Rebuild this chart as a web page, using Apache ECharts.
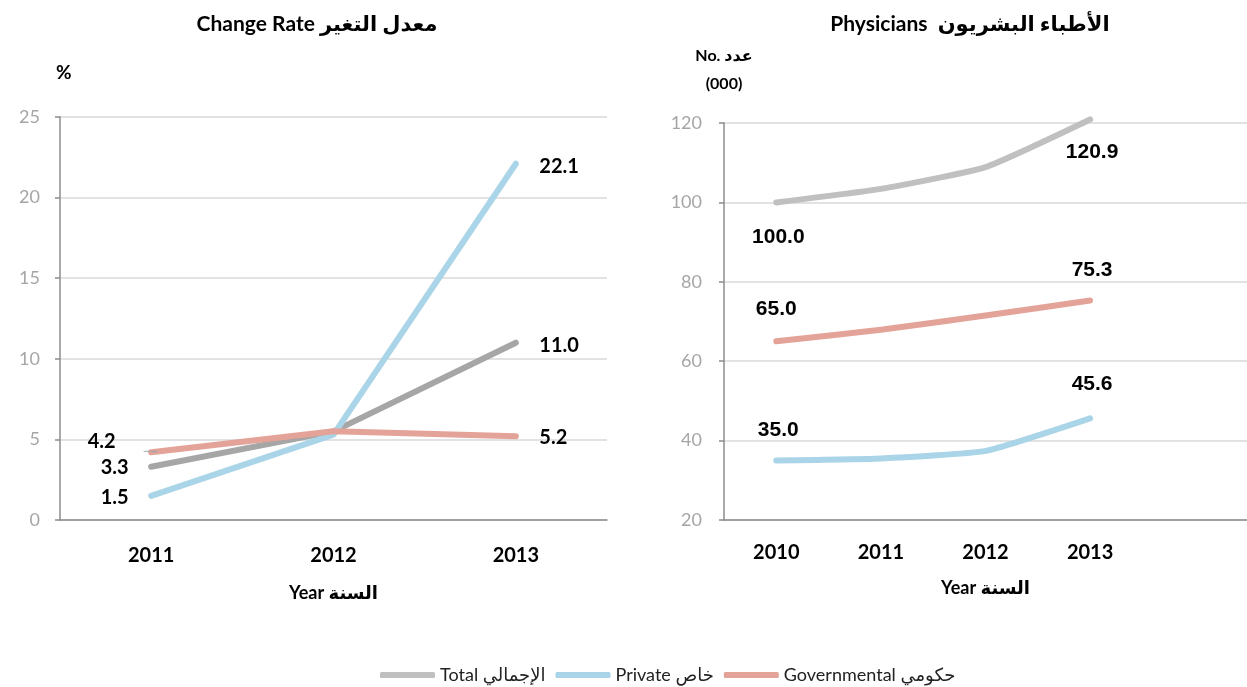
<!DOCTYPE html>
<html>
<head>
<meta charset="utf-8">
<script src="https://cdn.jsdelivr.net/npm/echarts@6/dist/echarts.min.js"></script>
<style>
html, body { margin: 0; padding: 0; background: #fff; }
#main { width: 1247px; height: 687px; }
</style>
</head>
<body>
<div id="main"></div>
<script>
// 左图：变化率 (%)
var rateYears = ['2011', '2012', '2013'];
var rateTotal = [3.3, 5.5, 11.0];
var ratePrivate = [1.5, 5.3, 22.1];
var rateGov = [4.2, 5.5, 5.2];

// 右图：医生人数 (千)
var docYears = ['2010', '2011', '2012', '2013', ''];
var docTotal = [100.0, 103.4, 108.9, 120.9];
var docGov = [65.0, 67.9, 71.5, 75.3];
var docPrivate = [35.0, 35.5, 37.4, 45.6];

var names = ['Total الإجمالي', 'Private خاص', 'Governmental حكومي'];

var FONT = 'Lato, "DejaVu Sans", sans-serif';
var ARIAL = '"Liberation Sans", Arial, "DejaVu Sans", sans-serif';

var C_GREY = '#a6a6a6';
var C_GREY_LIGHT = '#c0c0c0';
var C_BLUE = '#aad4e7';
var C_RED = '#e4a398';

// 给指定的点加数值标签
function withLabels(values, specs, font) {
    return values.map(function (v, i) {
        var s = specs[i];
        if (!s) return v;
        var item = {
            value: v,
            label: {
                show: true,
                position: s.pos,
                distance: s.dist || 0,
                offset: s.off || [0, 0],
                formatter: function (p) {
                    return Number(p.value).toFixed(1);
                },
                fontFamily: font,
                fontWeight: 'bold',
                fontSize: s.size || 19,
                color: '#000'
            }
        };
        if (s.guide) {
            item.labelLine = {show: true, length2: 14, lineStyle: {color: '#a6a6a6', width: 1}};
        }
        return item;
    });
}

function lineSeries(name, color, values, specs, axis, font, smooth) {
    return {
        name: name,
        type: 'line',
        xAxisIndex: axis,
        yAxisIndex: axis,
        data: withLabels(values, specs, font),
        symbol: 'circle',
        symbolSize: 1,
        smooth: smooth,
        clip: false,
        itemStyle: {color: color},
        lineStyle: {color: color, width: 6, cap: 'round', join: 'round'},
        label: {show: false},
        labelLine: {show: false},
        emphasis: {disabled: true},
        z: 3
    };
}

var axisLineStyle = {lineStyle: {color: '#8c8c8c', width: 1.5}};
var splitLineStyle = {lineStyle: {color: '#d9d9d9', width: 1.5}};
var tickLabel = {color: '#a6a6a6', fontSize: 18, fontFamily: FONT};
var catLabel = {color: '#000', fontSize: 20, fontWeight: 'bold', fontFamily: FONT};
var nameStyle = {color: '#000', fontSize: 18, fontWeight: 'bold', fontFamily: FONT};

var myChart = echarts.init(document.getElementById('main'));

var option = {
    backgroundColor: '#fff',
    animation: false,
    title: [{
        text: 'Change Rate معدل التغير',
        left: 312,
        top: 9,
        textAlign: 'center',
        textStyle: {fontFamily: FONT, fontSize: 21, fontWeight: 'bold', color: '#000'}
    }, {
        text: 'Physicians  الأطباء البشريون',
        left: 965,
        top: 9,
        textAlign: 'center',
        textStyle: {fontFamily: FONT, fontSize: 21, fontWeight: 'bold', color: '#000'}
    }],
    legend: {
        data: [
            {name: names[0], itemStyle: {color: C_GREY_LIGHT}},
            {name: names[1], itemStyle: {color: C_BLUE}},
            {name: names[2], itemStyle: {color: C_RED}}
        ],
        left: 375,
        top: 661,
        icon: 'roundRect',
        itemWidth: 55,
        itemHeight: 6,
        itemGap: 10,
        textStyle: {fontFamily: FONT, fontSize: 18, color: '#222'}
    },
    grid: [
        {left: 60, top: 117, width: 547, height: 403},
        {left: 724, top: 123, width: 533, height: 397}
    ],
    xAxis: [{
        type: 'category',
        gridIndex: 0,
        data: rateYears,
        boundaryGap: true,
        axisLine: axisLineStyle,
        axisTick: {show: false},
        axisLabel: Object.assign({margin: 26}, catLabel),
        name: 'Year السنة',
        nameLocation: 'middle',
        nameGap: 64,
        nameTextStyle: nameStyle
    }, {
        type: 'category',
        gridIndex: 1,
        data: docYears,
        boundaryGap: true,
        axisLine: axisLineStyle,
        axisTick: {show: false},
        axisLabel: Object.assign({margin: 23}, catLabel),
        name: 'Year السنة',
        nameLocation: 'middle',
        nameGap: 59,
        nameTextStyle: nameStyle
    }],
    yAxis: [{
        type: 'value',
        gridIndex: 0,
        min: 0,
        max: 25,
        interval: 5,
        axisLine: Object.assign({show: true}, axisLineStyle),
        axisTick: {show: true, length: 5, lineStyle: {color: '#8c8c8c', width: 1.5}},
        axisLabel: Object.assign({margin: 20}, tickLabel),
        splitLine: splitLineStyle,
        name: '%',
        nameLocation: 'end',
        nameGap: 35,
        nameTextStyle: {color: '#000', fontSize: 19, fontWeight: 'bold', fontFamily: FONT, align: 'left', padding: [0, 0, 0, -4]}
    }, {
        type: 'value',
        gridIndex: 1,
        min: 20,
        max: 120,
        interval: 20,
        axisLine: Object.assign({show: true}, axisLineStyle),
        axisTick: {show: true, length: 5, lineStyle: {color: '#8c8c8c', width: 1.5}},
        axisLabel: Object.assign({margin: 22}, tickLabel),
        splitLine: splitLineStyle,
        name: 'No. عدد\n(000)',
        nameLocation: 'end',
        nameGap: 25,
        nameTextStyle: {color: '#000', fontSize: 16, fontWeight: 'bold', fontFamily: FONT, lineHeight: 28, align: 'center'}
    }],
    series: [
        lineSeries(names[0], C_GREY, rateTotal, {
            0: {pos: 'left', dist: 22, off: [0, 1], size: 20},
            2: {pos: 'right', dist: 23, off: [0, 3], size: 20}
        }, 0, FONT, false),
        lineSeries(names[1], C_BLUE, ratePrivate, {
            0: {pos: 'left', dist: 22, off: [0, 2], size: 20},
            2: {pos: 'right', dist: 23, off: [0, 3], size: 20}
        }, 0, FONT, false),
        lineSeries(names[2], C_RED, rateGov, {
            0: {pos: 'left', dist: 35, off: [0, -11], guide: true, size: 20},
            2: {pos: 'right', dist: 23, off: [0, 1], size: 20}
        }, 0, FONT, false),
        lineSeries(names[0], C_GREY_LIGHT, docTotal, {
            0: {pos: 'inside', off: [2, 35], size: 21},
            3: {pos: 'inside', off: [2, 33], size: 21}
        }, 1, ARIAL, 0.15),
        lineSeries(names[1], C_BLUE, docPrivate, {
            0: {pos: 'inside', off: [2, -30], size: 21},
            3: {pos: 'inside', off: [2, -34], size: 21}
        }, 1, ARIAL, 0.15),
        lineSeries(names[2], C_RED, docGov, {
            0: {pos: 'inside', off: [0, -32], size: 21},
            3: {pos: 'inside', off: [2, -30], size: 21}
        }, 1, ARIAL, 0.15)
    ]
};

myChart.setOption(option);
</script>
</body>
</html>
